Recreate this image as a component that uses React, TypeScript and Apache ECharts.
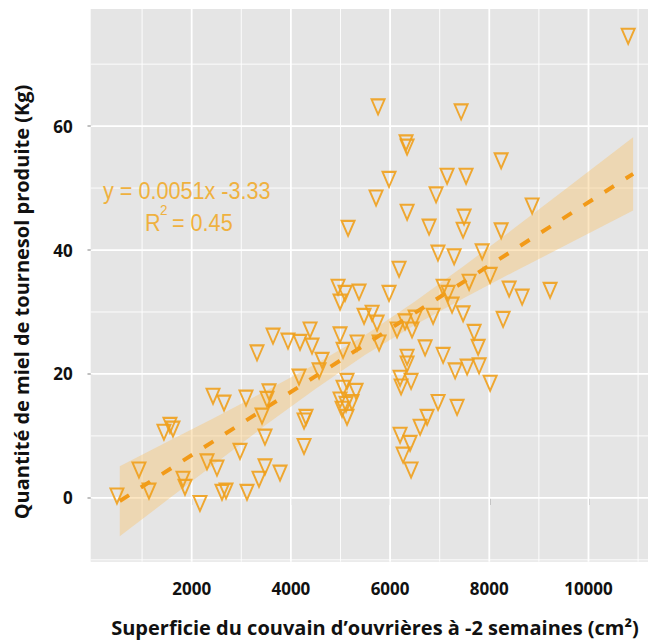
import React, { useEffect, useRef } from "react";
import * as echarts from "echarts";

// Axis breaks
const xMajor = [2000, 4000, 6000, 8000, 10000];
const xMinor = [1000, 3000, 5000, 7000, 9000, 11000];
const yMajor = [0, 20, 40, 60];
const yMinor = [-10, 10, 30, 50, 70];

// Observations: brood area (cm²) and sunflower honey (kg)
const broodArea = [
  493, 937, 1139, 1441, 1562, 1623, 1825, 1865, 2167, 2309,
  2510, 2430, 2652, 2611, 2692, 2974, 3115, 3095, 3317, 3418,
  3478, 3478, 3357, 3559, 3519, 3781, 3640, 3942, 4184, 4386,
  4426, 4164, 4265, 4305, 4265, 4628, 4568, 4951, 5092, 4991,
  5374, 5979, 5475, 5637, 5738, 6141, 4991, 5052, 5334, 5778,
  5132, 5052, 5314, 4991, 5233, 5112, 5032, 5132, 5153, 5758,
  7432, 6322, 6343, 8239, 5979, 7149, 7532, 5717, 6927, 8864,
  6343, 7492, 7472, 6786, 8239, 6965, 7291, 7856, 6181, 8017,
  7593, 7069, 7170, 8400, 8662, 9226, 7250, 7472, 6867, 8279,
  6302, 6504, 6443, 7694, 7775, 6706, 7069, 6343, 6343, 7311,
  7553, 7795, 8017, 6201, 6423, 6222, 6968, 7351, 6746, 6605,
  6201, 6403, 6262, 6423, 10800,
];
const honeyKg = [
  0.3, 4.5, 1.1, 10.6, 11.7, 11.1, 3.0, 1.7, -0.9, 5.8,
  4.8, 16.4, 15.3, 0.9, 1.1, 7.5, 0.9, 16.1, 23.4, 13.2,
  9.8, 5.0, 3.0, 17.1, 15.9, 4.0, 26.1, 25.3, 25.1, 27.1,
  24.5, 19.5, 12.4, 13.0, 8.3, 22.2, 20.5, 34.0, 33.0, 31.6,
  33.2, 33.0, 29.3, 29.8, 28.2, 27.1, 26.3, 23.8, 25.0, 25.0,
  18.8, 17.7, 17.2, 15.8, 15.4, 15.1, 14.3, 13.0, 43.5, 63.1,
  62.3, 57.3, 56.6, 54.4, 51.4, 51.9, 51.9, 48.4, 48.9, 47.1,
  46.1, 45.3, 43.2, 43.7, 43.1, 39.5, 38.9, 39.7, 36.9, 35.9,
  34.8, 34.0, 33.0, 33.7, 32.4, 33.5, 31.1, 29.7, 29.3, 28.8,
  28.4, 29.0, 27.1, 26.7, 24.3, 24.2, 23.0, 22.7, 21.6, 20.5,
  21.1, 21.3, 18.5, 19.3, 18.8, 17.9, 15.4, 14.6, 13.0, 11.4,
  10.1, 8.8, 6.9, 4.5, 74.5,
];

// Fitted line ends (y = 0.0051x - 3.33) and confidence band
const fitX = [550, 10900];
const fitY = [-0.5, 52.3];
const bandX = [550, 1500, 2500, 3500, 4500, 5500, 6500, 7500, 8500, 9500, 10900];
const bandLow = [-6.2, -0.4, 5.7, 11.8, 17.6, 23.1, 27.9, 32.3, 36.5, 40.6, 46.4];
const bandHigh = [5.1, 9.0, 13.1, 17.3, 21.6, 26.3, 31.7, 37.5, 43.5, 49.6, 58.2];

const ORANGE = "#EFA01C";
const TEXT_ORANGE = "#EFB13F";

export default function App() {
  const ref = useRef<HTMLDivElement>(null);

  useEffect(() => {
    if (!ref.current) return;
    const chart = echarts.init(ref.current, null, { renderer: "svg" });

    const gridSeries = {
      type: "custom",
      coordinateSystem: "cartesian2d",
      silent: true,
      z: 1,
      data: [[0, 0]],
      renderItem: (params: any, api: any) => {
        const cs = params.coordSys;
        const children: any[] = [];
        const vline = (v: number, w: number) => {
          const px = api.coord([v, 0])[0];
          children.push({
            type: "line",
            shape: { x1: px, y1: cs.y, x2: px, y2: cs.y + cs.height },
            style: { stroke: "#FFFFFF", lineWidth: w },
          });
        };
        const hline = (v: number, w: number) => {
          const py = api.coord([0, v])[1];
          children.push({
            type: "line",
            shape: { x1: cs.x, y1: py, x2: cs.x + cs.width, y2: py },
            style: { stroke: "#FFFFFF", lineWidth: w },
          });
        };
        xMinor.forEach((v) => vline(v, 0.9));
        yMinor.forEach((v) => hline(v, 0.9));
        xMajor.forEach((v) => vline(v, 1.8));
        yMajor.forEach((v) => hline(v, 1.8));
        return { type: "group", children };
      },
    };

    const bandSeries = {
      type: "custom",
      coordinateSystem: "cartesian2d",
      silent: true,
      z: 2,
      data: bandX.map((x, i) => [x, bandLow[i], bandHigh[i]]),
      encode: { x: 0, y: [1, 2] },
      renderItem: (params: any, api: any) => {
        if (params.dataIndex !== 0) return { type: "group", children: [] };
        const upper = bandX.map((x, i) => api.coord([x, bandHigh[i]]));
        const lower = bandX.map((x, i) => api.coord([x, bandLow[i]])).reverse();
        return {
          type: "polygon",
          shape: { points: upper.concat(lower) },
          style: { fill: "rgba(248,196,110,0.42)" },
        };
      },
    };

    const tickLabel = {
      fontFamily: "Open Sans",
      fontWeight: "bold",
      fontSize: 17,
      color: "#111111",
      margin: 18,
      formatter: (v: number) => String(v),
    };

    const option: any = {
      animation: false,
      grid: {
        left: 90.7,
        top: 9,
        width: 557.3,
        height: 552.7,
        show: true,
        backgroundColor: "#E5E5E5",
        borderWidth: 0,
        containLabel: false,
      },
      xAxis: {
        type: "value",
        min: -36,
        max: 11200,
        axisLine: { show: false },
        splitLine: { show: false },
        axisTick: {
          show: true,
          customValues: xMajor,
          length: 7,
          lineStyle: { color: "#AAAAAA", width: 1.5 },
        },
        axisLabel: { ...tickLabel, customValues: xMajor },
      },
      yAxis: {
        type: "value",
        min: -10.3,
        max: 78.9,
        axisLine: { show: false },
        splitLine: { show: false },
        axisTick: {
          show: true,
          customValues: yMajor,
          length: 5,
          lineStyle: { color: "#AAAAAA", width: 1.5 },
        },
        axisLabel: { ...tickLabel, customValues: yMajor },
      },
      series: [
        gridSeries,
        bandSeries,
        {
          type: "line",
          z: 3,
          silent: true,
          showSymbol: false,
          data: fitX.map((x, i) => [x, fitY[i]]),
          lineStyle: { color: "#F29A18", width: 4, type: [11, 14] },
        },
        {
          type: "scatter",
          z: 4,
          symbol: "triangle",
          symbolRotate: 180,
          symbolSize: [13, 15],
          data: broodArea.map((x, i) => [x, honeyKg[i]]),
          itemStyle: {
            color: "rgba(0,0,0,0)",
            borderColor: ORANGE,
            borderWidth: 2,
            opacity: 0.9,
          },
        },
      ],
      graphic: [
        {
          type: "text",
          x: 103,
          y: 191,
          scaleX: 0.9,
          z: 10,
          style: {
            text: "y = 0.0051x -3.33",
            fontFamily: "Liberation Sans",
            fontSize: 24,
            fill: TEXT_ORANGE,
            align: "left",
            verticalAlign: "middle",
          },
        },
        {
          type: "text",
          x: 145,
          y: 223,
          scaleX: 0.9,
          z: 10,
          style: {
            text: "R",
            fontFamily: "Liberation Sans",
            fontSize: 24,
            fill: TEXT_ORANGE,
            align: "left",
            verticalAlign: "middle",
          },
        },
        {
          type: "text",
          x: 160,
          y: 210,
          scaleX: 0.9,
          z: 10,
          style: {
            text: "2",
            fontFamily: "Liberation Sans",
            fontSize: 15,
            fill: TEXT_ORANGE,
            align: "left",
            verticalAlign: "middle",
          },
        },
        {
          type: "text",
          x: 172,
          y: 223,
          scaleX: 0.9,
          z: 10,
          style: {
            text: "= 0.45",
            fontFamily: "Liberation Sans",
            fontSize: 24,
            fill: TEXT_ORANGE,
            align: "left",
            verticalAlign: "middle",
          },
        },
        {
          type: "text",
          x: 375,
          y: 627,
          style: {
            text: "Superficie du couvain d\u2019ouvri\u00e8res \u00e0 -2 semaines (cm\u00b2)",
            fontFamily: "Open Sans",
            fontWeight: "bold",
            fontSize: 20,
            fill: "#111111",
            align: "center",
            verticalAlign: "middle",
          },
        },
        {
          type: "text",
          x: 21,
          y: 302,
          rotation: Math.PI / 2,
          style: {
            text: "Quantit\u00e9 de miel de tournesol produite (Kg)",
            fontFamily: "Open Sans",
            fontWeight: "bold",
            fontSize: 20,
            fill: "#111111",
            align: "center",
            verticalAlign: "middle",
          },
        },
      ],
    };

    chart.setOption(option);
    return () => chart.dispose();
  }, []);

  return (
    <div
      ref={ref}
      style={{ position: "fixed", left: 0, top: 0, width: 649, height: 642, background: "#FFFFFF" }}
    />
  );
}
